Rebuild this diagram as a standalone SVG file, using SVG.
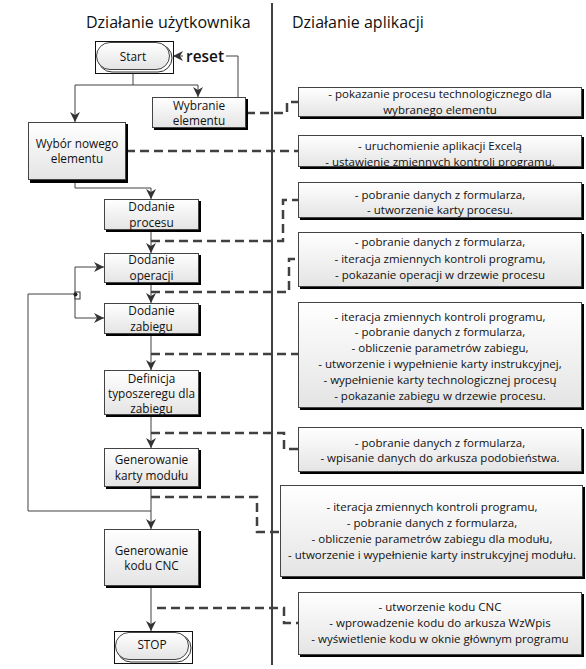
<svg xmlns="http://www.w3.org/2000/svg" width="586" height="669" viewBox="0 0 586 669">
<defs>
<linearGradient id="g" x1="0" y1="0" x2="0" y2="1"><stop offset="0" stop-color="#ffffff"/><stop offset="1" stop-color="#e4e4e4"/></linearGradient>
<marker id="ah" viewBox="0 0 10 10" refX="10" refY="5" markerWidth="10" markerHeight="10" markerUnits="userSpaceOnUse" orient="auto"><path d="M0,0 L10,5 L0,10 L3,5 Z" fill="#333"/></marker>
<style>
.box{fill:url(#g);stroke:#444;stroke-width:1}
.sh{fill:#000}
.t{font-family:"Open Sans","Noto Sans",sans-serif;font-size:11.8px;fill:#111;text-anchor:middle}
.r{font-family:"Open Sans","Noto Sans",sans-serif;font-size:11.5px;fill:#111;text-anchor:middle}
.h{font-family:"Open Sans","Noto Sans",sans-serif;font-size:16px;fill:#111}
.ln{fill:none;stroke:#404040;stroke-width:1}
.ar{fill:none;stroke:#404040;stroke-width:1;marker-end:url(#ah)}
.ds{fill:none;stroke:#404040;stroke-width:2.5;stroke-dasharray:9 5}
</style>
</defs>
<rect width="586" height="669" fill="#fff"/>
<line x1="272" y1="3" x2="272" y2="665" stroke="#404040" stroke-width="2"/>
<text class="h" x="86" y="28">Działanie użytkownika</text>
<text class="h" x="292" y="28">Działanie aplikacji</text>

<g id="connectors">
<polyline class="ln" points="133,73 133,85"/>
<polyline class="ln" points="75,85 198,85"/>
<polyline class="ar" points="198,85 198,97"/>
<polyline class="ar" points="75,85 75,122"/>
<polyline class="ln" points="226,56 238,56 238,97"/>
<polyline class="ar" points="183,56 173,56"/>
<polyline class="ln" points="75,180 75,188 151,188"/>
<polyline class="ar" points="151,188 151,199"/>
<polyline class="ar" points="151,230 151,253"/>
<polyline class="ar" points="151,283 151,303"/>
<polyline class="ar" points="151,334 151,370"/>
<polyline class="ar" points="151,415 151,448"/>
<polyline class="ar" points="151,487 151,529"/>
<polyline class="ar" points="151,586 151,631"/>
<polyline class="ln" points="151,511 28,511 28,294 75,294"/>
<polyline class="ln" points="75,267 75,318"/>
<polyline class="ar" points="75,267 104,267"/>
<polyline class="ar" points="75,318 104,318"/>
<rect x="75" y="292" width="5" height="7" fill="#fff" stroke="#333" stroke-width="1"/>
<circle cx="75.5" cy="294.5" r="2" fill="#222"/>
<polyline class="ds" points="246,113 287,113 287,102 298,102"/>
<polyline class="ds" points="126,151 298,151"/>
<polyline class="ds" points="151,241 283,241 283,200 298,200"/>
<polyline class="ds" points="151,292 289,292 289,259 298,259"/>
<polyline class="ds" points="151,354 298,354"/>
<polyline class="ds" points="151,433 284,433 284,449 298,449"/>
<polyline class="ds" points="151,497 257,497 257,532 280,532"/>
<polyline class="ds" points="157,608 284,608 284,623 298,623"/>
</g>

<g id="start">
<rect x="95.5" y="41.5" width="78" height="32" fill="#fff" stroke="#111" stroke-width="1"/>
<rect x="98" y="44" width="74" height="28" rx="14" fill="none" stroke="#333" stroke-width="1"/>
<rect x="96.5" y="42.5" width="73" height="27" rx="13.5" class="box"/>
<text class="t" x="133" y="61">Start</text>
</g>
<text id="reset" x="186" y="62" font-family="'Open Sans','Noto Sans',sans-serif" font-size="17" font-weight="600" fill="#111" textLength="38" lengthAdjust="spacingAndGlyphs">reset</text>

<g id="wybranie">
<rect class="sh" x="154" y="99" width="94" height="31"/>
<rect class="box" x="152.5" y="97.5" width="93" height="30"/>
<text class="t" x="199" y="110">Wybranie</text>
<text class="t" x="199" y="125">elementu</text>
</g>
<g id="wybor">
<rect class="sh" x="30" y="124" width="98" height="59"/>
<rect class="box" x="28.5" y="122.5" width="97" height="57"/>
<text class="t" x="77" y="148">Wybór nowego</text>
<text class="t" x="77" y="163">elementu</text>
</g>
<g id="proces">
<rect class="sh" x="106" y="201" width="95" height="31"/>
<rect class="box" x="104.5" y="199.5" width="94" height="30"/>
<text class="t" x="151.5" y="211">Dodanie</text>
<text class="t" x="151.5" y="227">procesu</text>
</g>
<g id="operacja">
<rect class="sh" x="106" y="255" width="95" height="30"/>
<rect class="box" x="104.5" y="253.5" width="94" height="29"/>
<text class="t" x="151.5" y="264">Dodanie</text>
<text class="t" x="151.5" y="280">operacji</text>
</g>
<g id="zabieg">
<rect class="sh" x="106" y="305" width="95" height="31"/>
<rect class="box" x="104.5" y="303.5" width="94" height="30"/>
<text class="t" x="151.5" y="315">Dodanie</text>
<text class="t" x="151.5" y="331">zabiegu</text>
</g>
<g id="definicja">
<rect class="sh" x="106" y="372" width="95" height="45"/>
<rect class="box" x="104.5" y="370.5" width="94" height="44"/>
<text class="t" x="151.5" y="383">Definicja</text>
<text class="t" x="151.5" y="398">typoszeregu dla</text>
<text class="t" x="151.5" y="413">zabiegu</text>
</g>
<g id="karta">
<rect class="sh" x="106" y="450" width="95" height="39"/>
<rect class="box" x="104.5" y="448.5" width="94" height="38"/>
<text class="t" x="151.5" y="464">Generowanie</text>
<text class="t" x="151.5" y="480">karty modułu</text>
</g>
<g id="cnc">
<rect class="sh" x="106" y="531" width="95" height="57"/>
<rect class="box" x="104.5" y="529.5" width="94" height="56"/>
<text class="t" x="151.5" y="555">Generowanie</text>
<text class="t" x="151.5" y="570">kodu CNC</text>
</g>
<g id="stop">
<rect x="114.5" y="631.5" width="78" height="32" fill="#fff" stroke="#111" stroke-width="1"/>
<rect x="117" y="634" width="74" height="28" rx="14" fill="none" stroke="#333" stroke-width="1"/>
<rect x="115.5" y="632.5" width="73" height="27" rx="13.5" class="box"/>
<text class="t" x="152" y="649">STOP</text>
</g>

<g id="a1">
<rect class="sh" x="300" y="89" width="284" height="30"/>
<rect class="box" x="298.5" y="87.5" width="283" height="29"/>
<text class="r" x="440" y="98">- pokazanie procesu technologicznego dla</text>
<text class="r" x="440" y="114">wybranego elementu</text>
</g>
<g id="a2">
<rect class="sh" x="300" y="137" width="284" height="32"/>
<rect class="box" x="298.5" y="135.5" width="283" height="31"/>
<text class="r" x="440" y="150">- uruchomienie aplikacji Excelą</text>
<text class="r" x="440" y="166">- ustawienie zmiennych kontroli programu.</text>
</g>
<g id="a3">
<rect class="sh" x="300" y="184" width="284" height="36"/>
<rect class="box" x="298.5" y="182.5" width="283" height="35"/>
<text class="r" x="440" y="199">- pobranie danych z formularza,</text>
<text class="r" x="440" y="214">- utworzenie karty procesu.</text>
</g>
<g id="a4">
<rect class="sh" x="300" y="234" width="284" height="55"/>
<rect class="box" x="298.5" y="232.5" width="283" height="54"/>
<text class="r" x="440" y="246">- pobranie danych z formularza,</text>
<text class="r" x="440" y="263">- iteracja zmiennych kontroli programu,</text>
<text class="r" x="440" y="279">- pokazanie operacji w drzewie procesu</text>
</g>
<g id="a5">
<rect class="sh" x="300" y="304" width="284" height="106"/>
<rect class="box" x="298.5" y="302.5" width="283" height="105"/>
<text class="r" x="440" y="321">- iteracja zmiennych kontroli programu,</text>
<text class="r" x="440" y="336">- pobranie danych z formularza,</text>
<text class="r" x="440" y="352">- obliczenie parametrów zabiegu,</text>
<text class="r" x="440" y="368">- utworzenie i wypełnienie karty instrukcyjnej,</text>
<text class="r" x="440" y="384">- wypełnienie karty technologicznej procesų</text>
<text class="r" x="440" y="400">- pokazanie zabiegu w drzewie procesu.</text>
</g>
<g id="a6">
<rect class="sh" x="300" y="429" width="284" height="45"/>
<rect class="box" x="298.5" y="427.5" width="283" height="44"/>
<text class="r" x="440" y="447">- pobranie danych z formularza,</text>
<text class="r" x="440" y="462">- wpisanie danych do arkusza podobieństwa.</text>
</g>
<g id="a7">
<rect class="sh" x="282" y="487" width="303" height="92"/>
<rect class="box" x="280.5" y="485.5" width="302" height="91"/>
<text class="r" x="432" y="511">- iteracja zmiennych kontroli programu,</text>
<text class="r" x="432" y="527">- pobranie danych z formularza,</text>
<text class="r" x="432" y="543">- obliczenie parametrów zabiegu dla modułu,</text>
<text class="r" x="432" y="559">- utworzenie i wypełnienie karty instrukcyjnej modułu.</text>
</g>
<g id="a8">
<rect class="sh" x="300" y="594" width="284" height="63"/>
<rect class="box" x="298.5" y="592.5" width="283" height="62"/>
<text class="r" x="440" y="611">- utworzenie kodu CNC</text>
<text class="r" x="440" y="627">- wprowadzenie kodu do arkusza WzWpis</text>
<text class="r" x="440" y="643">- wyświetlenie kodu w oknie głównym programu</text>
</g>
</svg>
